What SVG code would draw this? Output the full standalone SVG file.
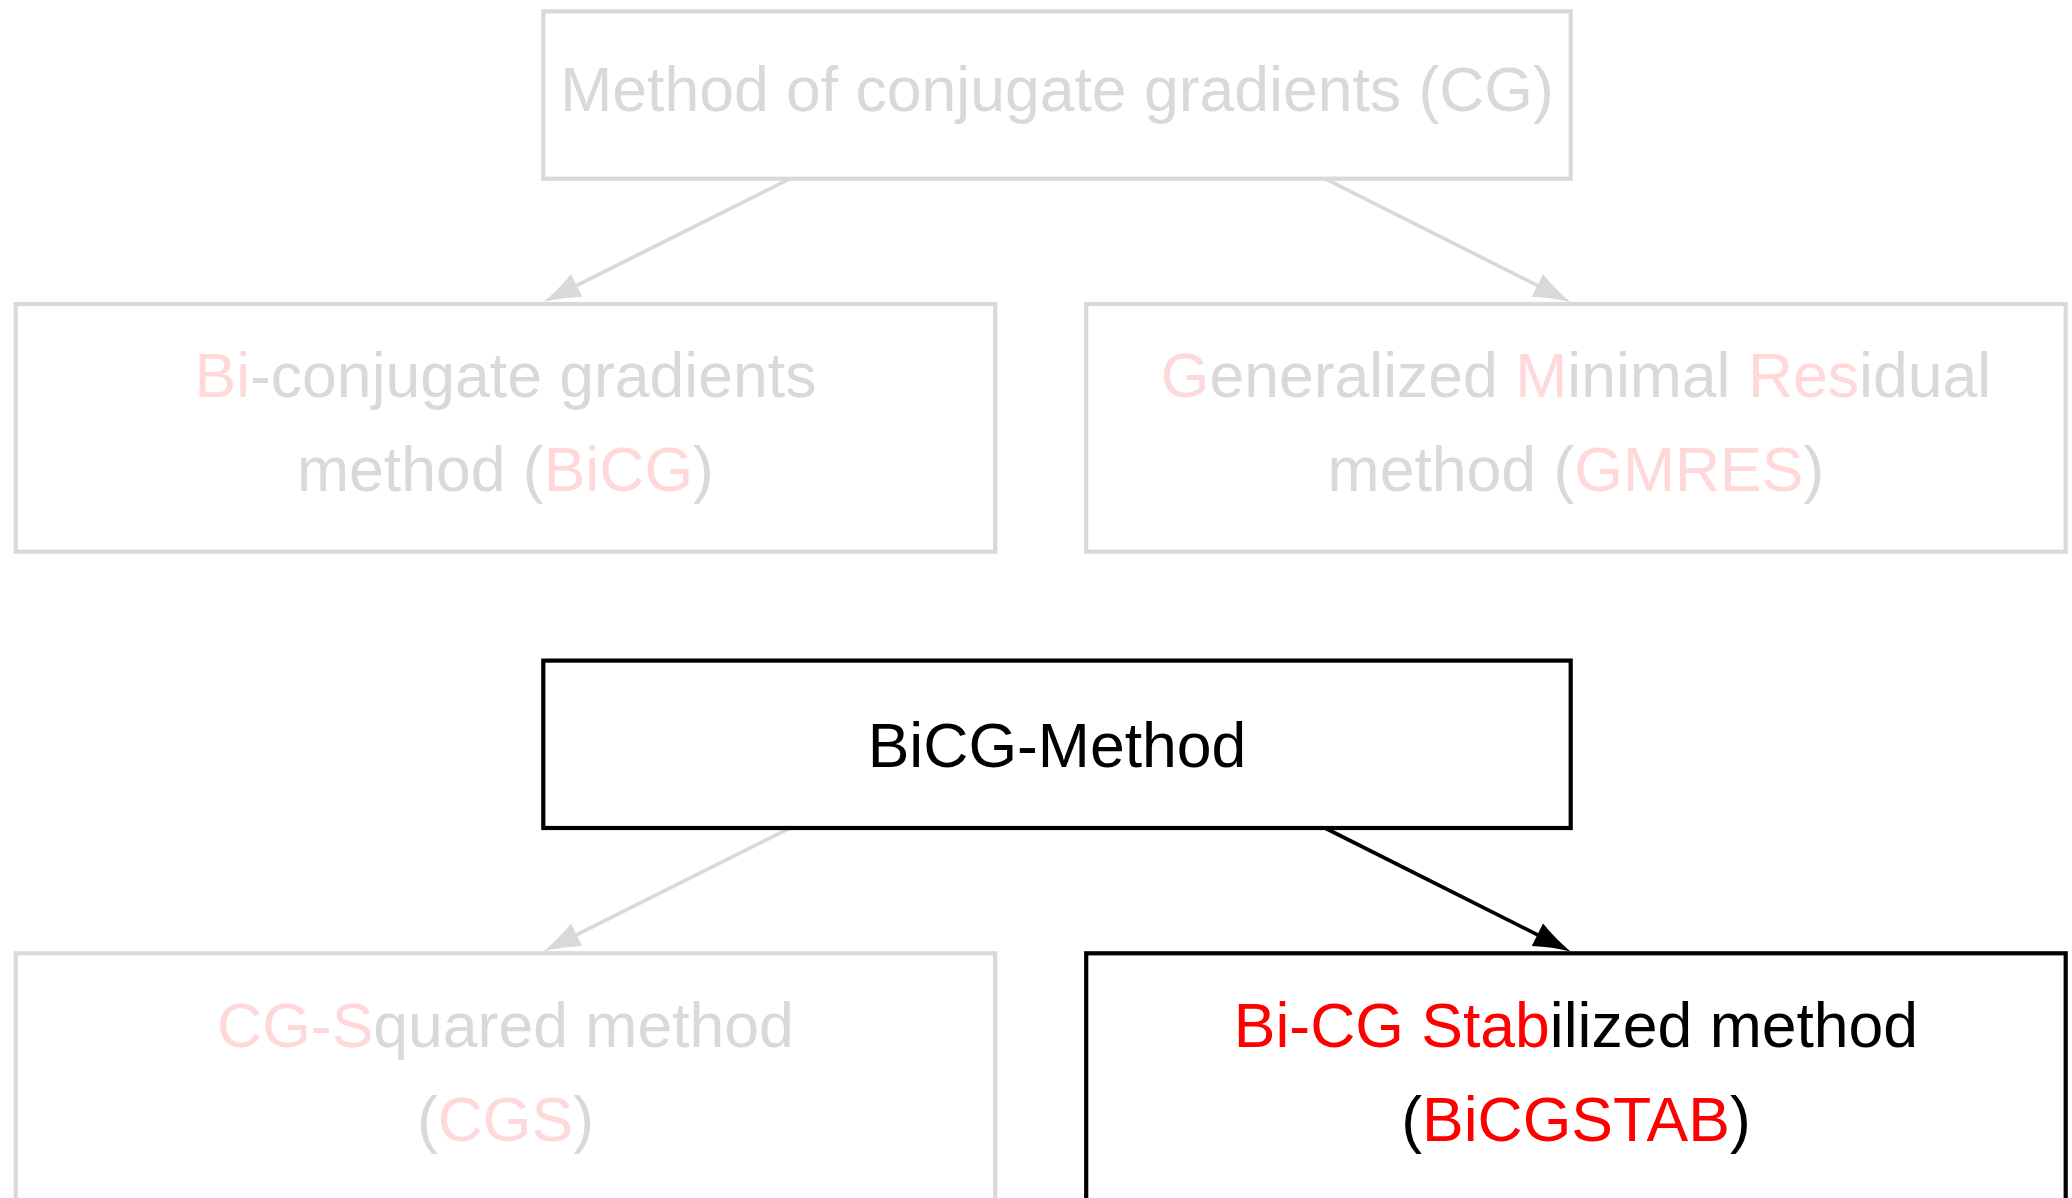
<svg xmlns="http://www.w3.org/2000/svg" width="2072" height="1198" viewBox="0 0 2072 1198">
<style>
  .box { fill: #ffffff; stroke-width: 4.2; }
  .faded { stroke: rgb(217,217,217); }
  .active { stroke: #000000; }
  text { font-family: "Liberation Sans", Arial, Helvetica, sans-serif; font-size: 62.5px; text-anchor: middle; }
  .g { fill: rgb(217,217,217); }
  .p { fill: rgb(255,217,217); }
  .k { fill: #000000; }
  .r { fill: #ff0000; }
  .edge { fill: none; stroke-width: 3.7; }
  .edge.faded { stroke: rgb(217,217,217); }
  .edge.active { stroke: #000000; }
</style>
<defs>
  <marker id="arrowGray" markerUnits="userSpaceOnUse" orient="auto" viewBox="-20 -14 42 28" refX="0" refY="0" markerWidth="42" markerHeight="28" overflow="visible">
    <path d="M20,0 Q2,-4 -17,-12.5 L-17,12.5 Q2,4 20,0 Z" fill="rgb(217,217,217)"/>
  </marker>
  <marker id="arrowBlack" markerUnits="userSpaceOnUse" orient="auto" viewBox="-20 -14 42 28" refX="0" refY="0" markerWidth="42" markerHeight="28" overflow="visible">
    <path d="M20,0 Q2,-4 -17,-12.5 L-17,12.5 Q2,4 20,0 Z" fill="#000000"/>
  </marker>
</defs>
<rect x="0" y="0" width="2072" height="1198" fill="#ffffff"/>

<g id="connectors">
  <path class="edge faded" d="M790,178.7 L561.4,293.1" marker-end="url(#arrowGray)"/>
  <path class="edge faded" d="M1325,178.7 L1552.6,293.1" marker-end="url(#arrowGray)"/>
  <path class="edge faded" d="M790,828 L561.4,942.4" marker-end="url(#arrowGray)"/>
  <path class="edge active" d="M1325,828 L1552.6,942.4" marker-end="url(#arrowBlack)"/>
</g>

<g id="node-cg">
  <rect class="box faded" x="543.3" y="11.3" width="1027.4" height="167.4"/>
  <text x="1057" y="111" class="g">Method of conjugate gradients (CG)</text>
</g>

<g id="node-bicg">
  <rect class="box faded" x="15.7" y="304" width="979.5" height="247.7"/>
  <text x="505.45" y="397"><tspan class="p">Bi</tspan><tspan class="g">-conjugate gradients</tspan></text>
  <text x="505.45" y="491"><tspan class="g">method (</tspan><tspan class="p">BiCG</tspan><tspan class="g">)</tspan></text>
</g>

<g id="node-gmres">
  <rect class="box faded" x="1086.2" y="304" width="979.5" height="247.7"/>
  <text x="1575.95" y="397"><tspan class="p">G</tspan><tspan class="g">eneralized </tspan><tspan class="p">M</tspan><tspan class="g">inimal </tspan><tspan class="p">Res</tspan><tspan class="g">idual</tspan></text>
  <text x="1575.95" y="491"><tspan class="g">method (</tspan><tspan class="p">GMRES</tspan><tspan class="g">)</tspan></text>
</g>

<g id="node-bicg-method">
  <rect class="box active" x="543.3" y="660.6" width="1027.4" height="167.4"/>
  <text x="1057" y="766.5" class="k">BiCG-Method</text>
</g>

<g id="node-cgs">
  <rect class="box faded" x="15.7" y="953.3" width="979.5" height="247.7"/>
  <text x="505.45" y="1047"><tspan class="p">CG-S</tspan><tspan class="g">quared method</tspan></text>
  <text x="505.45" y="1141"><tspan class="g">(</tspan><tspan class="p">CGS</tspan><tspan class="g">)</tspan></text>
</g>

<g id="node-bicgstab">
  <rect class="box active" x="1086.2" y="953.3" width="979.5" height="247.7"/>
  <text x="1575.95" y="1047"><tspan class="r">Bi-CG Stab</tspan><tspan class="k">ilized method</tspan></text>
  <text x="1575.95" y="1141"><tspan class="k">(</tspan><tspan class="r">BiCGSTAB</tspan><tspan class="k">)</tspan></text>
</g>
</svg>
